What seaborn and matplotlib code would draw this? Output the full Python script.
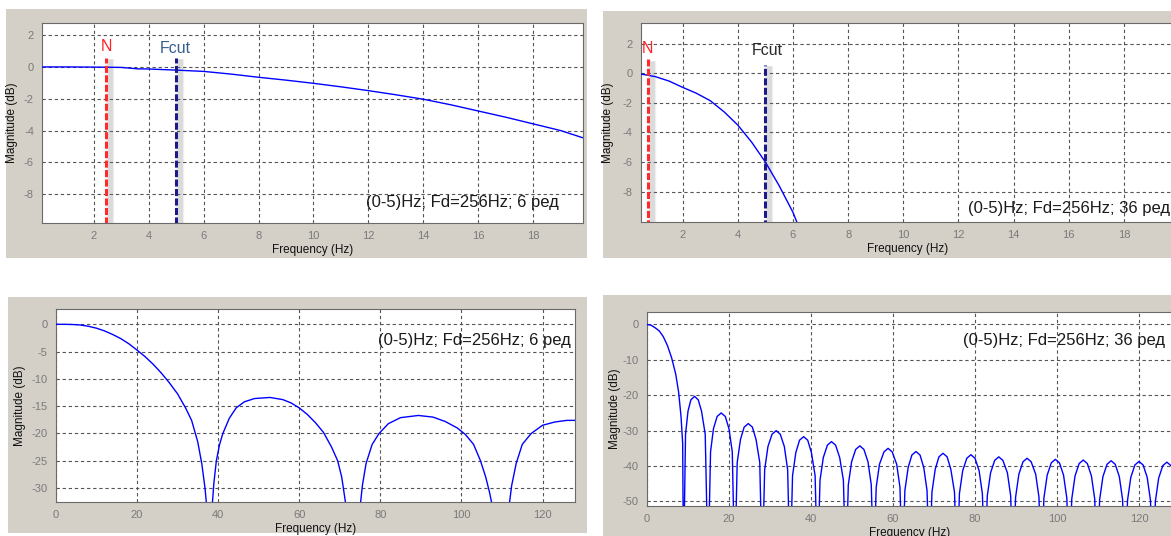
import matplotlib
matplotlib.use("Agg")
import matplotlib.pyplot as plt
import matplotlib.transforms as mtransforms
from matplotlib.patches import Rectangle
import seaborn as sns

# --- panel 1: 6th order, zoomed pass band
freq1 = [0.13, 1, 2, 3, 3.6, 4, 5, 6, 7, 8, 9, 10, 11, 12, 13, 14, 15, 16, 17, 18, 19, 19.8]
mag1 = [0, 0, -0.01, -0.03, -0.12, -0.13, -0.2, -0.28, -0.45, -0.65, -0.83, -1.03, -1.25,
        -1.49, -1.75, -2.03, -2.38, -2.77, -3.16, -3.58, -4.0, -4.45]

# --- panel 2: 36th order, zoomed pass band
freq2 = [0.49, 1, 1.5, 2, 2.5, 3, 3.5, 4, 4.5, 5, 5.5, 6, 6.15]
mag2 = [-0.05, -0.22, -0.52, -0.95, -1.35, -1.85, -2.6, -3.5, -4.65, -6.0, -7.6, -9.4, -10.1]

# markers: N and Fcut (x position, top of line)
n_x = [2.45, 0.73]
n_top = [0.57, 0.95]
fcut_x = [5.0, 5.0]
fcut_top = [0.57, 0.56]

# --- panel 3: 6th order, full band
freq3 = [0, 2, 4, 6, 8, 10, 12, 14, 16, 18, 20, 22, 24, 26, 28, 30, 32, 33.5, 35, 36,
         36.8, 37.3, 37.9,
         38.6, 39.0, 39.6, 40.4, 41.2, 42.8, 44.5, 46.5, 49, 52.8, 56, 58, 60, 62, 64, 66, 68,
         69.5, 70.5, 71.3, 71.7, 73.6,
         75.1, 75.6, 76.5, 78, 79.7, 82, 85, 89.4, 93, 96, 99, 101, 103, 104.7, 106, 107,
         107.8, 109.8,
         111.8, 112.4, 113.5, 115, 117.2, 120, 123, 126, 128]
mag3 = [0, 0, -0.03, -0.12, -0.35, -0.7, -1.2, -1.85, -2.6, -3.55, -4.7, -5.9, -7.3, -8.9,
        -10.7, -12.7, -15.3, -17.6, -21.5, -25.5, -30, -34, -60,
        -33, -29, -25, -22, -20, -17.2, -15.3, -14.2, -13.6, -13.4, -13.8, -14.4, -15.3, -16.5,
        -18, -19.8, -22.5, -25, -28, -32, -34, -60,
        -33, -29.5, -25.5, -22, -20, -18.2, -17.1, -16.7, -17.0, -17.8, -19, -20.2, -22, -25,
        -28, -31, -34, -60,
        -33, -29.5, -25.5, -22, -20, -18.5, -17.9, -17.6, -17.6]

# --- panel 4: 36th order, full band
freq4 = [0, 1, 2, 3, 4, 5, 6, 7, 7.7, 8.3, 8.7, 8.9,
         9.4, 10.0, 10.7, 11.6, 12.5, 13.3, 14.2, 14.9,
         15.5, 16.2, 17.1, 18.1, 19.1, 20.0, 20.8, 21.4,
         22.0, 22.8, 23.7, 24.7, 25.7, 26.6, 27.5, 28.1,
         28.7, 29.5, 30.5, 31.5, 32.5, 33.5, 34.3, 34.9,
         35.5, 36.3, 37.2, 38.2, 39.2, 40.1, 41.0, 41.6,
         42.2, 43.0, 44.0, 45.0, 46.0, 47.0, 47.9, 48.5,
         49.1, 49.9, 50.9, 51.9, 52.9, 53.9, 54.7, 55.3,
         55.9, 56.7, 57.8, 58.8, 59.8, 60.9, 61.7, 62.3,
         62.9, 63.7, 64.6, 65.6, 66.6, 67.5, 68.3, 68.9,
         69.5, 70.3, 71.2, 72.2, 73.2, 74.1, 75.0, 75.6,
         76.2, 77.0, 78.0, 79.0, 80.0, 81.0, 81.8, 82.4,
         83.0, 83.8, 84.8, 85.8, 86.8, 87.9, 88.7, 89.3,
         89.9, 90.7, 91.7, 92.7, 93.7, 94.8, 95.6, 96.2,
         96.8, 97.6, 98.6, 99.6, 100.6, 101.6, 102.4, 103.0,
         103.6, 104.4, 105.4, 106.4, 107.4, 108.4, 109.2, 109.8,
         110.4, 111.2, 112.2, 113.2, 114.2, 115.2, 116.0, 116.6,
         117.2, 118.0, 119.0, 120.0, 121.0, 122.0, 122.8, 123.4,
         124.0, 124.8, 125.8, 126.8, 127.8, 128.0]
mag4 = [0, -0.22, -0.95, -1.85, -3.5, -6.0, -9.4, -14, -19, -26, -33.6, -70,
        -31, -24.5, -21.3, -20.3, -21.3, -24.5, -31, -70,
        -36, -29.5, -26, -25, -26, -29.5, -36, -70,
        -39, -32.5, -29, -28, -29, -32.5, -39, -70,
        -41, -34.5, -31, -30, -31, -34.5, -41, -70,
        -42.7, -36.2, -32.7, -31.7, -32.7, -36.2, -42.7, -70,
        -44, -37.6, -34.1, -33.1, -34.1, -37.6, -44, -70,
        -45.3, -38.8, -35.3, -34.3, -35.3, -38.8, -45.3, -70,
        -46, -39.5, -36, -35, -36, -39.5, -46, -70,
        -46.9, -40.4, -36.9, -35.9, -36.9, -40.4, -46.9, -70,
        -47.4, -40.9, -37.4, -36.4, -37.4, -40.9, -47.4, -70,
        -47.8, -41.3, -37.8, -36.8, -37.8, -41.3, -47.8, -70,
        -48.4, -41.9, -38.4, -37.4, -38.4, -41.9, -48.4, -70,
        -48.8, -42.3, -38.8, -37.8, -38.8, -42.3, -48.8, -70,
        -49.1, -42.6, -39.1, -38.1, -39.1, -42.6, -49.1, -70,
        -49.3, -42.8, -39.3, -38.3, -39.3, -42.8, -49.3, -70,
        -49.5, -43, -39.5, -38.5, -39.5, -43, -49.5, -70,
        -49.7, -43.2, -39.7, -38.7, -39.7, -43.2, -49.7, -70,
        -49.9, -43.4, -39.9, -38.9, -39.9, -40.2]

note_short = ['(0-5)Hz; Fd=256Hz; 6 ред', '(0-5)Hz; Fd=256Hz; 36 ред']

sns.set_style("white")
plt.rcParams['font.family'] = ['Liberation Sans', 'DejaVu Sans']
plt.rcParams['axes.unicode_minus'] = False

W, H = 1171, 536
fig = plt.figure(figsize=(W / 100, H / 100), dpi=100, facecolor='white')
GRAY = '#d4d0c8'


def frac(l, t, r, b):
    return [l / W, (H - b) / H, (r - l) / W, (b - t) / H]


# grey window backgrounds
for l, t, r, b in [(6, 9, 587, 258), (603, 11, 1185, 258),
                   (8, 297, 587, 533), (603, 295, 1185, 545)]:
    x0, y0, w, h = frac(l, t, r, b)
    fig.patches.append(Rectangle((x0, y0), w, h, transform=fig.transFigure,
                                 facecolor=GRAY, edgecolor='none', zorder=-5))


def make_axes(rect, xlim, ylim, xticks, yticks, ylab_dx):
    ax = fig.add_axes(frac(*rect))
    ax.set_facecolor('white')
    ax.set_xlim(xlim)
    ax.set_ylim(ylim)
    ax.set_xticks(xticks)
    ax.set_yticks(yticks)
    ax.grid(True, linestyle=(0, (3, 2.5)), color='#555555', linewidth=0.8)
    ax.tick_params(direction='in', length=3, width=0.8, color='#666666',
                   labelcolor='#7a7a7a', labelsize=8, pad=6)
    for s in ax.spines.values():
        s.set_color('#6a6a6a')
        s.set_linewidth(0.8)
    h_px = rect[3] - rect[1]
    w_px = rect[2] - rect[0]
    ax.set_xlabel('Frequency (Hz)', fontsize=8.5, color='#111111')
    ax.xaxis.label.set_va('center')
    ax.xaxis.set_label_coords(0.5, -27 / h_px)
    ax.set_ylabel('Magnitude (dB)', fontsize=8.5, color='#111111')
    ax.yaxis.label.set_va('center')
    ax.yaxis.set_label_coords(ylab_dx / w_px, 0.5)
    return ax


ax1 = make_axes((42.3, 22.7, 582.7, 222.7), (0.13, 19.8), (-9.79, 2.78),
                range(2, 19, 2), range(-8, 3, 2), -30)
ax2 = make_axes((641, 22.7, 1173.6, 221.7), (0.49, 19.8), (-10.03, 3.42),
                range(2, 19, 2), range(-8, 3, 2), -33)
ax3 = make_axes((55.7, 308.7, 575, 501.7), (0, 128), (-32.5, 2.86),
                range(0, 121, 20), range(-30, 1, 5), -36)
ax4 = make_axes((647, 311.7, 1171.8, 505.7), (0, 128), (-51.2, 3.6),
                range(0, 121, 20), range(-50, 1, 10), -32)

for ax, fx, my in [(ax1, freq1, mag1), (ax2, freq2, mag2), (ax3, freq3, mag3), (ax4, freq4, mag4)]:
    sns.lineplot(x=fx, y=my, ax=ax, color='#0000ff', linewidth=1.0,
                 estimator=None, sort=False, zorder=3)

# N / Fcut marker lines with a soft shadow
for i, ax in enumerate([ax1, ax2]):
    for dx, lw, a in [(4, 6, 0.12), (4, 3.5, 0.18)]:
        shadow = mtransforms.offset_copy(ax.transData, fig=fig, x=dx, y=0, units='dots')
        for xs, top in [(n_x[i], n_top[i]), (fcut_x[i], fcut_top[i])]:
            ax.vlines(xs, -20, top - 0.1, colors='#808080', linewidth=lw, alpha=a,
                      transform=shadow, zorder=2)
    for xs, top, col in [(n_x[i], n_top[i], '#ff2a2a'), (fcut_x[i], fcut_top[i], '#1a1a8a')]:
        ax.vlines(xs, -20, top, colors=col, linewidth=2.2, linestyles=(0, (2.3, 0.8)), zorder=4)

ax1.text(2.45, 1.28, 'N', color='#ff2020', fontsize=11.5, ha='center', va='center')
ax1.text(4.96, 1.13, 'Fcut', color='#3b5f8f', fontsize=11.5, ha='center', va='center')
ax2.text(0.71, 1.69, 'N', color='#ff2020', fontsize=11.5, ha='center', va='center')
ax2.text(5.06, 1.53, 'Fcut', color='#2a2a2a', fontsize=11.5, ha='center', va='center')

ax1.text(11.9, -8.55, note_short[0], fontsize=12, color='#1a1a1a', ha='left', va='center')
ax2.text(12.35, -9.17, note_short[1], fontsize=12, color='#1a1a1a', ha='left', va='center')
ax3.text(79.5, -2.9, note_short[0], fontsize=12, color='#1a1a1a', ha='left', va='center')
ax4.text(77.1, -4.6, note_short[1], fontsize=12, color='#1a1a1a', ha='left', va='center')

fig.savefig('out.png', dpi=100, facecolor='white')
